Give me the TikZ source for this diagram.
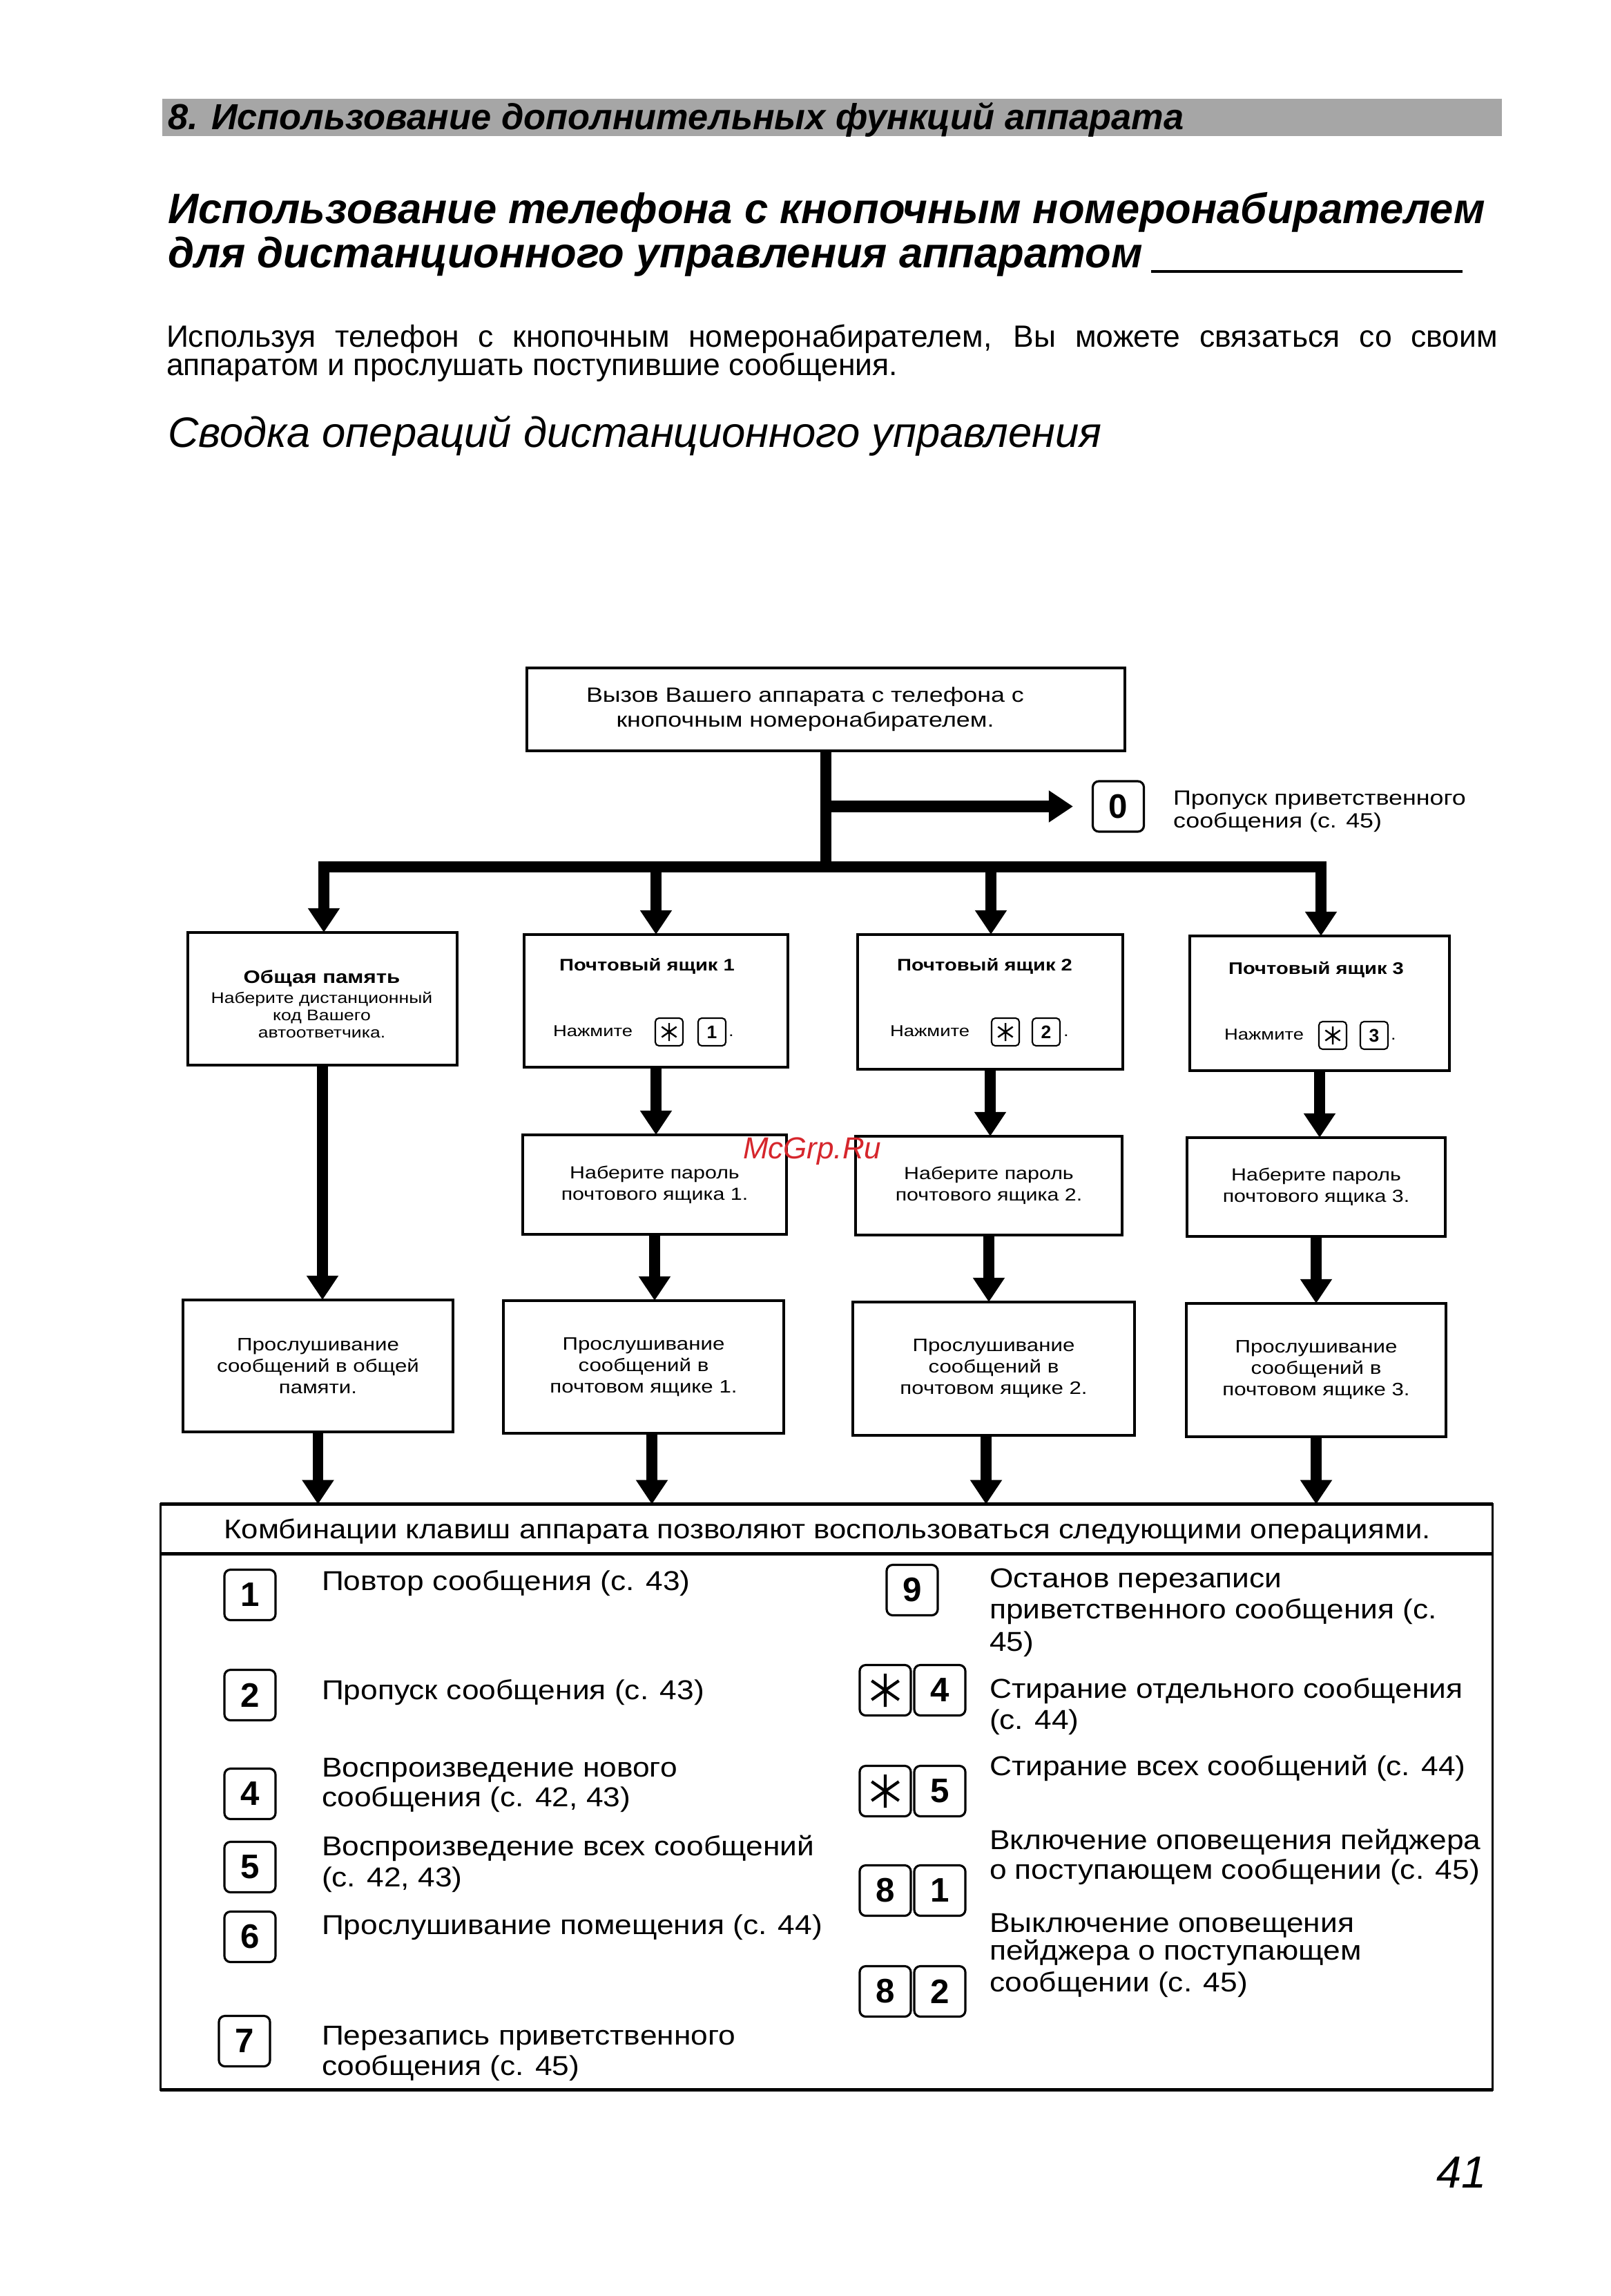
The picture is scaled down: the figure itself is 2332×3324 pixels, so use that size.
\documentclass[tikz,border=0pt]{standalone}
\usepackage{fontspec}
\setmainfont{Liberation Sans}
\newfontfamily\diafont[FakeStretch=1.2]{Liberation Sans}
\newfontfamily\tabfont[FakeStretch=1.12]{Liberation Sans}
\usetikzlibrary{arrows.meta}
\definecolor{wmred}{RGB}{214,38,44}
\begin{document}
\begin{tikzpicture}[x=0.01cm,y=-0.01cm,
  every node/.style={inner sep=0pt, outer sep=0pt},
  conn/.style={line width=4.3pt},
  arr/.style={line width=4.3pt, -{Triangle[width=12.5pt,length=10pt]}},
  fbox/.style={draw, line width=1.1pt, align=center, font=\diafont},
  lbl/.style={anchor=base west},
  dlbl/.style={anchor=base, font=\diafont\fontsize{6.3}{7.1}\selectfont},
  keybig/.style={draw, line width=0.9pt, rounded corners=2.5pt, minimum width=0.74cm, minimum height=0.73cm, font=\fontsize{14}{14}\selectfont\bfseries},
  keysmall/.style={draw, line width=0.6pt, rounded corners=1.5pt, minimum width=0.40cm, minimum height=0.40cm, font=\fontsize{7.5}{7.5}\selectfont\bfseries},
  starbig/.style={path picture={\draw[line width=1.2pt] (path picture bounding box.center) +(90:0.24cm) -- +(270:0.24cm) +(35:0.24cm) -- +(215:0.24cm) +(145:0.24cm) -- +(325:0.24cm);}},
  starsmall/.style={path picture={\draw[line width=0.7pt] (path picture bounding box.center) +(90:0.13cm) -- +(270:0.13cm) +(35:0.13cm) -- +(215:0.13cm) +(145:0.13cm) -- +(325:0.13cm);}},
  tt/.style={anchor=base west, font=\tabfont\fontsize{11.25}{12.5}\selectfont}
]
\fill[white] (0,0) rectangle (2332,3324);
\useasboundingbox (0,0) rectangle (2332,3324);

% ---------- header ----------
\fill[black!35] (235,143) rectangle (2175,197);
\node[lbl, font=\fontsize{14.9}{14.9}\selectfont\bfseries\itshape] (hdr) at (243,188) {8. Использование дополнительных функций аппарата};

\node[lbl, font=\fontsize{17.5}{17.5}\selectfont\bfseries\itshape] (ti1) at (243,323) {Использование телефона с кнопочным номеронабирателем};
\node[lbl, font=\fontsize{17.5}{17.5}\selectfont\bfseries\itshape] (ti2) at (243,387) {для дистанционного управления аппаратом};
\draw[line width=1.1pt] (1667,393) -- (2118,393);

\node[lbl, font=\fontsize{12.65}{12.65}\selectfont] (bd1) at (241,502) {\makebox[19.27cm][s]{Используя телефон с кнопочным номеронабирателем, Вы можете связаться со своим}};
\node[lbl, font=\fontsize{12.65}{12.65}\selectfont] (bd2) at (241,543) {аппаратом и прослушать поступившие сообщения.};

\node[lbl, font=\fontsize{17.5}{17.5}\selectfont\itshape] (sub) at (243,647) {Сводка операций дистанционного управления};

% ---------- flowchart ----------
\node[fbox, minimum width=8.66cm, minimum height=1.20cm] (top) at (1196,1027) {};
\node[align=center, font=\diafont\fontsize{8.5}{10.2}\selectfont] (toptx) at (1166,1027) {Вызов Вашего аппарата с телефона с\\кнопочным номеронабирателем.};

\node[keybig] (k0) at (1619.5,1167.5) {0};
\node[lbl, font=\diafont\fontsize{8.5}{10.2}\selectfont] (k0a) at (1699,1165) {Пропуск приветственного};
\node[lbl, font=\diafont\fontsize{8.5}{10.2}\selectfont] (k0b) at (1699,1198) {сообщения (с. 45)};

% row 1
\node[fbox, minimum width=3.90cm, minimum height=1.92cm] (r1b0) at (467,1446) {};
\node[fbox, minimum width=3.82cm, minimum height=1.92cm] (r1b1) at (950,1449) {};
\node[fbox, minimum width=3.84cm, minimum height=1.95cm] (r1b2) at (1434,1450.5) {};
\node[fbox, minimum width=3.76cm, minimum height=1.95cm] (r1b3) at (1911,1452.5) {};

\node[anchor=base, font=\diafont\fontsize{7.4}{8}\selectfont\bfseries] (g1) at (466,1423) {Общая память};
\node[dlbl] (g2) at (466,1452) {Наберите дистанционный};
\node[dlbl] (g3) at (466,1477) {код Вашего};
\node[dlbl] (g4) at (466,1502) {автоответчика.};

\node[anchor=base, font=\diafont\fontsize{6.9}{8}\selectfont\bfseries] (m1t) at (937,1405) {Почтовый ящик 1};
\node[anchor=base, font=\diafont\fontsize{6.9}{8}\selectfont\bfseries] (m2t) at (1426,1405) {Почтовый ящик 2};
\node[anchor=base, font=\diafont\fontsize{6.9}{8}\selectfont\bfseries] (m3t) at (1906,1410) {Почтовый ящик 3};

\node[lbl, font=\diafont\fontsize{6.5}{8}\selectfont] (m1p) at (801,1500) {Нажмите};
\node[keysmall, starsmall] (m1s) at (969,1494) {};
\node[keysmall] (m1k) at (1031,1494) {1};
\node[lbl, font=\diafont\fontsize{6.5}{8}\selectfont] (m1d) at (1055,1500) {.};

\node[lbl, font=\diafont\fontsize{6.5}{8}\selectfont] (m2p) at (1289,1500) {Нажмите};
\node[keysmall, starsmall] (m2s) at (1456,1494) {};
\node[keysmall] (m2k) at (1515,1494) {2};
\node[lbl, font=\diafont\fontsize{6.5}{8}\selectfont] (m2d) at (1540,1500) {.};

\node[lbl, font=\diafont\fontsize{6.5}{8}\selectfont] (m3p) at (1773,1505) {Нажмите};
\node[keysmall, starsmall] (m3s) at (1930,1499) {};
\node[keysmall] (m3k) at (1990,1499) {3};
\node[lbl, font=\diafont\fontsize{6.5}{8}\selectfont] (m3d) at (2014,1505) {.};

% row 2
\node[fbox, minimum width=3.82cm, minimum height=1.44cm, font=\diafont\fontsize{7.2}{8.8}\selectfont] (r2b1) at (948,1715) {Наберите пароль\\почтового ящика 1.};
\node[fbox, minimum width=3.86cm, minimum height=1.43cm, font=\diafont\fontsize{7.2}{8.8}\selectfont] (r2b2) at (1432,1716.5) {Наберите пароль\\почтового ящика 2.};
\node[fbox, minimum width=3.74cm, minimum height=1.43cm, font=\diafont\fontsize{7.2}{8.8}\selectfont] (r2b3) at (1906,1718.5) {Наберите пароль\\почтового ящика 3.};

% row 3
\node[fbox, minimum width=3.91cm, minimum height=1.91cm, font=\diafont\fontsize{7.4}{8.8}\selectfont] (r3b0) at (460.5,1977.5) {Прослушивание\\сообщений в общей\\памяти.};
\node[fbox, minimum width=4.05cm, minimum height=1.92cm, font=\diafont\fontsize{7.4}{8.8}\selectfont] (r3b1) at (932,1979) {Прослушивание\\сообщений в\\почтовом ящике 1.};
\node[fbox, minimum width=4.07cm, minimum height=1.93cm, font=\diafont\fontsize{7.4}{8.8}\selectfont] (r3b2) at (1439,1981.5) {Прослушивание\\сообщений в\\почтовом ящике 2.};
\node[fbox, minimum width=3.75cm, minimum height=1.93cm, font=\diafont\fontsize{7.4}{8.8}\selectfont] (r3b3) at (1906,1983.5) {Прослушивание\\сообщений в\\почтовом ящике 3.};

% table
\node[draw, line width=1pt, minimum width=19.28cm, minimum height=8.47cm] (tab) at (1197,2601.5) {};
\draw[line width=1.5pt] (tab.north west) -- (tab.north east);
\draw[line width=1.5pt] ([yshift=-0.72cm]tab.north west) -- ([yshift=-0.72cm]tab.north east);
\draw[line width=1.4pt] (tab.south west) -- (tab.south east);
\node[anchor=base, font=\tabfont\fontsize{11.1}{12.5}\selectfont] (thd) at (1198,2227) {Комбинации клавиш аппарата позволяют воспользоваться следующими операциями.};

% connectors
\coordinate (b0) at (469,1255);
\coordinate (b1) at (950,1255);
\coordinate (b2) at (1435,1255);
\coordinate (b3) at (1913,1255);
\draw[conn] (top.south) -- (top.south |- b0);
\draw[conn, line cap=rect] (b0) -- (b3);
\draw[arr, line width=4.6pt, shorten >=0.285cm] (top.south |- k0.west) -- (k0.west);
\draw[arr] (b0) -- (b0 |- r1b0.north);
\draw[arr] (b1) -- (b1 |- r1b1.north);
\draw[arr] (b2) -- (b2 |- r1b2.north);
\draw[arr] (b3) -- (b3 |- r1b3.north);

\draw[arr] (r1b0.south) -- (r1b0.south |- r3b0.north);
\draw[arr] (r1b1.south) -- (r1b1.south |- r2b1.north);
\draw[arr] (r1b2.south) -- (r1b2.south |- r2b2.north);
\draw[arr] (r1b3.south) -- (r1b3.south |- r2b3.north);
\draw[arr] (r2b1.south) -- (r2b1.south |- r3b1.north);
\draw[arr] (r2b2.south) -- (r2b2.south |- r3b2.north);
\draw[arr] (r2b3.south) -- (r2b3.south |- r3b3.north);
\coordinate (d1) at ([xshift=0.12cm]r3b1.south);
\coordinate (d2) at ([xshift=-0.11cm]r3b2.south);
\draw[arr] (r3b0.south) -- (r3b0.south |- tab.north);
\draw[arr] (d1) -- (d1 |- tab.north);
\draw[arr] (d2) -- (d2 |- tab.north);
\draw[arr] (r3b3.south) -- (r3b3.south |- tab.north);

% table entries, left column
\node[keybig] (kl1) at (362,2309) {1};
\node[tt] (tl1) at (466,2302) {Повтор сообщения (с. 43)};
\node[keybig] (kl2) at (362,2454) {2};
\node[tt] (tl2) at (466,2460) {Пропуск сообщения (с. 43)};
\node[keybig] (kl4) at (362,2597) {4};
\node[tt] (tl4a) at (466,2572) {Воспроизведение нового};
\node[tt] (tl4b) at (466,2615) {сообщения (с. 42, 43)};
\node[keybig] (kl5) at (362,2703) {5};
\node[tt] (tl5a) at (466,2686) {Воспроизведение всех сообщений};
\node[tt] (tl5b) at (466,2731) {(с. 42, 43)};
\node[keybig] (kl6) at (362,2804) {6};
\node[tt] (tl6) at (466,2800) {Прослушивание помещения (с. 44)};
\node[keybig] (kl7) at (354,2955) {7};
\node[tt] (tl7a) at (466,2960) {Перезапись приветственного};
\node[tt] (tl7b) at (466,3004) {сообщения (с. 45)};

% right column
\node[keybig] (kr9) at (1321,2302) {9};
\node[tt] (tr9a) at (1433,2298) {Останов перезаписи};
\node[tt] (tr9b) at (1433,2343) {приветственного сообщения (с.};
\node[tt] (tr9c) at (1433,2390) {45)};
\node[keybig, starbig] (kr4s) at (1282,2447) {};
\node[keybig] (kr4) at (1361,2447) {4};
\node[tt] (tr4a) at (1433,2458) {Стирание отдельного сообщения};
\node[tt] (tr4b) at (1433,2503) {(с. 44)};
\node[keybig, starbig] (kr5s) at (1282,2593) {};
\node[keybig] (kr5) at (1361,2593) {5};
\node[tt] (tr5) at (1433,2570) {Стирание всех сообщений (с. 44)};
\node[keybig] (kr81a) at (1282,2737) {8};
\node[keybig] (kr81b) at (1361,2737) {1};
\node[tt] (tr81a) at (1433,2677) {Включение оповещения пейджера};
\node[tt] (tr81b) at (1433,2720) {о поступающем сообщении (с. 45)};
\node[keybig] (kr82a) at (1282,2883) {8};
\node[keybig] (kr82b) at (1361,2883) {2};
\node[tt] (tr82a) at (1433,2797) {Выключение оповещения};
\node[tt] (tr82b) at (1433,2837) {пейджера о поступающем};
\node[tt] (tr82c) at (1433,2883) {сообщении (с. 45)};

% watermark and page number
\node[lbl, text=wmred, font=\fontsize{12.5}{12.5}\selectfont\itshape] (wm) at (1076,1677) {McGrp.Ru};
\node[lbl, font=\fontsize{18.5}{18.5}\selectfont\itshape] (pg) at (2080,3167) {41};
\end{tikzpicture}
\end{document}
